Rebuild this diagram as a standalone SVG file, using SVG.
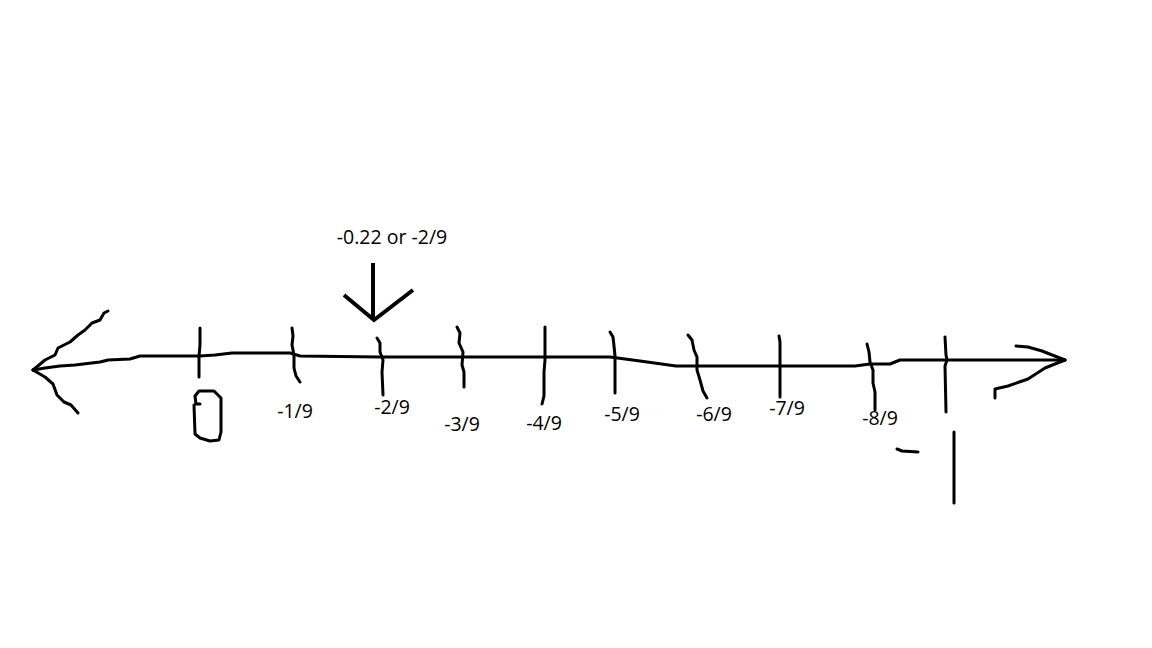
<svg xmlns="http://www.w3.org/2000/svg" width="1152" height="648" viewBox="0 0 1152 648">
<style>
.s{fill:none;stroke:#000;stroke-width:3;stroke-linecap:round;stroke-linejoin:round}
.b{fill:none;stroke:#000;stroke-width:4;stroke-linecap:butt;stroke-linejoin:miter}
text{font-family:"Open Sans","Liberation Sans",sans-serif;font-size:19.5px;fill:#000;text-anchor:middle}
</style>
<rect width="1152" height="648" fill="#fff"/>
<g id="connectors">
<path id="axis" class="s" d="M33,370 L45,368 L60,366 L75,365 L100,362 L108,360 L130,359 L140,356 L200,356 L215,355 L232,353 L290,353 L300,356 L380,357 L610,357 L640,361 L676,366 L855,366 L870,364 L890,364 L900,360 L1010,360 L1065,360"/>
<path id="left-head-upper" class="s" d="M33,370 L45,360 L55,355 L58,348 L70,342 L78,335 L85,330 L92,323 L100,320 L104,313 L108,311"/>
<path id="left-head-lower" class="s" d="M33,370 L45,377 L53,384 L57,395 L64,402 L71,405 L78,413"/>
<path id="right-head-upper" class="s" d="M1016,346 L1028,347 L1042,351 L1065,360"/>
<path id="right-head-lower" class="s" d="M995,398 L995,389 L1008,386 L1028,379 L1045,368 L1065,360"/>
<path id="pointer-shaft" class="b" d="M373,263 L373,318"/>
<path id="pointer-head" class="b" d="M344,295 L374,320 L413,290"/>
</g>
<g id="tick-0"><path class="s" d="M200,328 L200,345 L199,356 L199,377"/></g>
<g id="tick-1"><path class="s" d="M292,328 L293,336 L292,345 L294,355 L294,368 L296,376 L300,382"/></g>
<g id="tick-2"><path class="s" d="M377,338 L380,343 L380,352 L383,360 L382,372 L383,395"/></g>
<g id="tick-3"><path class="s" d="M457,327 L460,333 L459,343 L463,352 L462,365 L464,372 L464,387"/></g>
<g id="tick-4"><path class="s" d="M545,327 L545,360 L544,372 L544,396 L542,404"/></g>
<g id="tick-5"><path class="s" d="M610,332 L613,337 L614,346 L615,356 L615,393"/></g>
<g id="tick-6"><path class="s" d="M688,335 L692,340 L694,350 L697,357 L697,370 L700,380 L703,391 L707,398"/></g>
<g id="tick-7"><path class="s" d="M779,336 L780,342 L780,397"/></g>
<g id="tick-8"><path class="s" d="M867,344 L869,352 L870,362 L873,370 L873,383 L875,392 L875,410"/></g>
<g id="tick-9"><path class="s" d="M945,337 L946,355 L947,360 L945,366 L946,412"/></g>
<g id="mark-0"><path class="s" d="M200,404 L196,404 L195,396 L199,391 L214,391 L221,398 L221,432 L219,440 L210,441 L200,438 L195,434 L194,405"/></g>
<g id="mark-minus-1"><path class="s" d="M897,449 L902,451 L918,452"/><path class="s" d="M954,432 L954,503"/></g>
<g id="labels">
<text x="392" y="244">-0.22 or -2/9</text>
<text x="295" y="418">-1/9</text>
<text x="392" y="414">-2/9</text>
<text x="462" y="431">-3/9</text>
<text x="544" y="430">-4/9</text>
<text x="622" y="421">-5/9</text>
<text x="714" y="421">-6/9</text>
<text x="787" y="415">-7/9</text>
<text x="880" y="425">-8/9</text>
</g>
</svg>
